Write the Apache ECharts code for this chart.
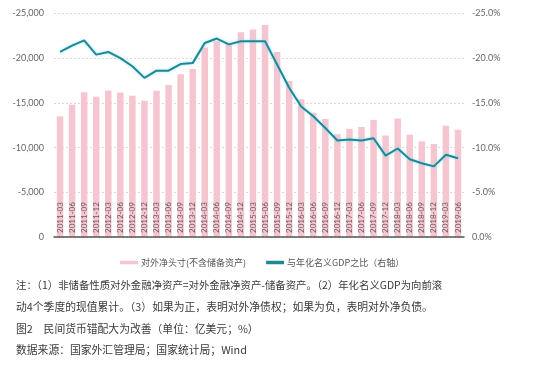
<!DOCTYPE html>
<html>
<head>
<meta charset="utf-8">
<script src="https://cdn.jsdelivr.net/npm/echarts@6/dist/echarts.min.js"></script>
<style>
html,body{margin:0;padding:0;background:#fff;}
#c{width:550px;height:369px;}
</style>
</head>
<body>
<div id="c"></div>
<script>
var categories = ['2011-03','2011-06','2011-09','2011-12','2012-03','2012-06','2012-09','2012-12',
  '2013-03','2013-06','2013-09','2013-12','2014-03','2014-06','2014-09','2014-12',
  '2015-03','2015-06','2015-09','2015-12','2016-03','2016-06','2016-09','2016-12',
  '2017-03','2017-06','2017-09','2017-12','2018-03','2018-06','2018-09','2018-12',
  '2019-03','2019-06'];
var netPosition = [-13500,-14800,-16200,-15700,-16400,-16150,-15800,-15250,
  -16350,-17000,-18200,-18800,-21200,-21900,-21600,-22900,
  -23200,-23700,-20700,-17450,-15400,-13900,-13200,-11500,
  -12100,-12300,-13100,-11350,-13250,-11450,-10700,-10400,
  -12450,-12000];
var ratioGDP = [-20.7,-21.4,-22.0,-20.4,-20.7,-20.0,-19.1,-17.8,
  -18.6,-18.6,-19.35,-19.45,-21.7,-22.2,-21.55,-21.9,
  -21.9,-21.9,-19.3,-16.7,-14.6,-13.5,-12.2,-10.8,
  -10.9,-10.8,-11.05,-9.1,-9.9,-8.7,-8.25,-7.9,
  -9.2,-8.8];
var leftTicks = ['0','-5,000','-10,000','-15,000','-20,000','-25,000'];
var rightTicks = ['0.0%','-5.0%','-10.0%','-15.0%','-20.0%','-25.0%'];
var seriesNames = ['对外净头寸(不含储备资产)','与年化名义GDP之比（右轴）'];
var notes = [
  '注：（1）非储备性质对外金融净资产=对外金融净资产-储备资产。（2）年化名义GDP为向前滚',
  '动4个季度的现值累计。（3）如果为正，表明对外净债权；如果为负，表明对外净负债。',
  '图2　民间货币错配大为改善（单位：亿美元；%）',
  '数据来源：国家外汇管理局；国家统计局；Wind'
];

var chart = echarts.init(document.getElementById('c'));
var noteY = [287, 309, 331, 352];
var noteSize = [10.4, 10.8, 10.8, 10.8];
var graphics = notes.map(function(t, i){
  return {type:'text', left:16, top:noteY[i]-7,
    style:{text:t, fill:'#3a3a3a', font:noteSize[i]+'px "Noto Sans CJK SC"'}};
});
chart.setOption({
  animation:false,
  grid:{left:54, right:86, top:13.5, bottom:132},
  legend:{
    left:115, top:253, itemWidth:18, itemHeight:3.5, itemGap:20,
    textStyle:{fontSize:9, color:'#555', fontFamily:'"Noto Sans CJK SC"', padding:[0,0,0,-2]},
    data:[{name:seriesNames[0], icon:'rect'},{name:seriesNames[1], icon:'rect'}]
  },
  xAxis:{
    type:'category', data:categories, z:10,
    axisLine:{lineStyle:{color:'#555', width:1.5}},
    axisTick:{show:false},
    axisLabel:{inside:true, rotate:90, interval:0, fontSize:8, color:'#6a5a5e', margin:4, fontFamily:'Lato'}
  },
  yAxis:[{
    type:'value', min:-25000, max:0, interval:5000, inverse:true,
    axisLine:{show:false}, axisTick:{show:false},
    axisLabel:{color:'#666', fontSize:9, fontFamily:'Lato', margin:10,
      formatter:function(v){ return leftTicks[Math.round(-v/5000)]; }},
    splitLine:{lineStyle:{color:'#d8d8d8', type:[2,2]}}
  },{
    type:'value', min:-25, max:0, interval:5, inverse:true,
    axisLine:{show:false}, axisTick:{show:false},
    axisLabel:{color:'#666', fontSize:9, fontFamily:'Lato', margin:8,
      formatter:function(v){ return rightTicks[Math.round(-v/5)]; }},
    splitLine:{show:false}
  }],
  series:[{
    name:seriesNames[0], type:'bar', data:netPosition, barWidth:6.5,
    itemStyle:{color:'#f5c6cf'}
  },{
    name:seriesNames[1], type:'line', yAxisIndex:1, data:ratioGDP,
    symbol:'none', smooth:false,
    lineStyle:{color:'#1f8896', width:2, shadowColor:'rgba(140,225,245,0.9)', shadowBlur:3},
    itemStyle:{color:'#1f8896'}
  }],
  graphic:graphics
});
</script>
</body>
</html>
